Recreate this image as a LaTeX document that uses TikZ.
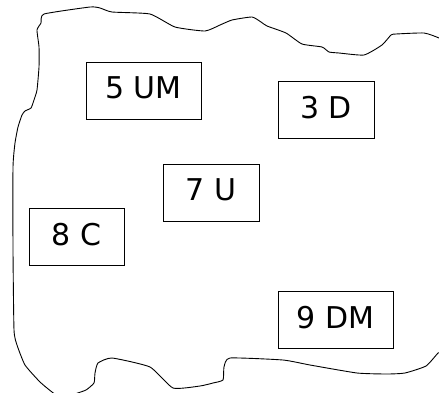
\documentclass[tikz,border=0pt]{standalone}
\usepackage{fontspec}
\setmainfont{DejaVu Sans}
\begin{document}
\begin{tikzpicture}[x=1pt,y=-1pt,
  zone/.style={draw=black, line width=0.9pt, minimum height=57pt, inner sep=0pt,
    text depth=5pt, font=\fontsize{30}{36}\selectfont},
  outline/.style={draw=black, line width=0.9pt, line join=round}]
\useasboundingbox (0,0) rectangle (439,392);
\begin{scope}
\clip (0,0) rectangle (439,392);
\draw[outline] plot[smooth cycle, tension=0.3] coordinates {
 (44,14) (90,7) (100,8) (112,12) (150,14) (175,27) (205,31) (220,25) (232,20)
 (252,17) (261,22) (267,26) (286,33) (302,44) (322,47) (329,52) (339,53)
 (364,55) (382,45) (391,35) (396,34) (424,33) (439,38) (452,46) (452,338)
 (438,353) (426,366) (405,373) (387,374) (357,373) (310,365) (283,360)
 (230,358) (224,367) (223,380) (213,383) (200,386) (173,388) (150,367)
 (112,358) (98,363) (95,373) (94,383) (86,390) (75,394) (64,400) (52,392)
 (40,382) (25,365) (17,345) (14,330) (13,250) (13,167) (15,143) (18,127)
 (22,115) (25,111) (31,108) (34,100) (37,90) (39,67) (39,47) (37,30) (41,23)};
\end{scope}
\node[zone, minimum width=115pt] (um) at (143.5,90.5) {5 UM};
\node[zone, minimum width=96pt] (d) at (326,109.5) {3 D};
\node[zone, minimum width=96pt] (u) at (211,192.5) {7 U};
\node[zone, minimum width=95pt] (c) at (76.5,236.5) {8 C};
\node[zone, minimum width=115pt] (dm) at (335.5,319.5) {9 DM};
\end{tikzpicture}
\end{document}
